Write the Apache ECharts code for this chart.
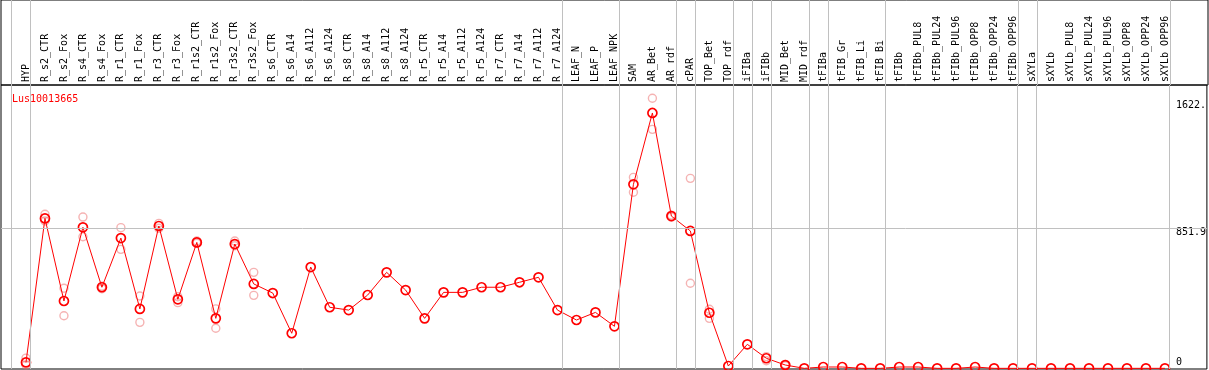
<!DOCTYPE html>
<html>
<head>
<meta charset="utf-8">
<script src="https://cdn.jsdelivr.net/npm/echarts@6/dist/echarts.min.js"></script>
<style>
html,body{margin:0;padding:0;background:#fff;}
#chart{width:1209px;height:370px;}
</style>
</head>
<body>
<div id="chart"></div>
<script>
const categories = ["HYP","R_s2_CTR","R_s2_Fox","R_s4_CTR","R_s4_Fox","R_r1_CTR","R_r1_Fox","R_r3_CTR","R_r3_Fox",
"R_r1s2_CTR","R_r1s2_Fox","R_r3s2_CTR","R_r3s2_Fox","R_s6_CTR","R_s6_A14","R_s6_A112","R_s6_A124",
"R_s8_CTR","R_s8_A14","R_s8_A112","R_s8_A124","R_r5_CTR","R_r5_A14","R_r5_A112","R_r5_A124",
"R_r7_CTR","R_r7_A14","R_r7_A112","R_r7_A124","LEAF_N","LEAF_P","LEAF_NPK","SAM","AR_Bet","AR_rdf",
"cPAR","TOP_Bet","TOP_rdf","iFIBa","iFIBb","MID_Bet","MID_rdf","tFIBa","tFIB_Gr","tFIB_Li","tFIB_Bi",
"tFIBb","tFIBb_PUL8","tFIBb_PUL24","tFIBb_PUL96","tFIBb_OPP8","tFIBb_OPP24","tFIBb_OPP96",
"sXYLa","sXYLb","sXYLb_PUL8","sXYLb_PUL24","sXYLb_PUL96","sXYLb_OPP8","sXYLb_OPP24","sXYLb_OPP96"];

const meanValues = [40,910,411,856,494,791,363,864,421,765,306,755,514,459,216,616,373,356,447,584,
477,306,463,463,494,494,524,554,356,296,342,258,1116,1547,924,834,340,18,149,65,24,4,12,12,4,4,
12,12,4,4,12,4,4,4,4,4,4,4,4,4,4];

const rep1Values = [66,935,488,918,500,854,441,880,437,773,363,773,584,null,null,null,null,null,null,null,
null,null,null,null,null,null,null,null,null,null,null,null,1158,1636,930,1152,361,null,null,75,28,null,
null,null,null,null,null,null,null,null,null,null,null,null,null,null,null,null,null,null,null];

const rep2Values = [24,894,322,799,485,723,282,850,401,759,246,745,445,null,null,null,null,null,null,null,
null,null,null,null,null,null,null,null,null,null,null,null,1068,1448,918,518,306,null,null,50,20,null,
null,null,null,null,null,null,null,null,null,null,null,null,null,null,null,null,null,null,null];

const groupEnds = [-1,0,28,31,34,35,37,38,39,41,42,45,52,53,60];
const yTickValues = [0, 851.9, 1622.5];
const yTickLabels = ["0", "851.9", "1622."];
const geneName = "Lus10013665";

const FONT = "DejaVu Sans Mono";
const X_MIN = -1.3158, X_MAX = 62.2105, Y_MAX = 1716;
const SEP_OFF = 0.24;

const meanData = meanValues.map((v, i) => [i, v]);
const repData = [];
rep1Values.forEach((v, i) => { if (v !== null) repData.push([i, v]); });
rep2Values.forEach((v, i) => { if (v !== null) repData.push([i, v]); });

const sepLines = groupEnds.map(g => ({ xAxis: g + SEP_OFF }));

const chart = echarts.init(document.getElementById('chart'), null, { renderer: 'canvas' });
chart.setOption({
  animation: false,
  backgroundColor: '#fff',
  title: {
    text: geneName, left: 7, top: 89,
    textStyle: { color: '#ff0000', fontSize: 10, fontFamily: FONT, fontWeight: 'normal' }
  },
  grid: [
    { left: 1, right: 1, top: 85, bottom: 1, show: true, borderColor: '#000', borderWidth: 1, backgroundColor: 'transparent' },
    { left: 1, right: 1, top: 0, height: 85, show: true, borderColor: '#000', borderWidth: 1, backgroundColor: 'transparent' }
  ],
  xAxis: [
    {
      gridIndex: 0, type: 'value', position: 'top', min: X_MIN, max: X_MAX,
      axisLine: { show: false }, axisTick: { show: false }, splitLine: { show: false },
      axisLabel: {
        rotate: 90, margin: 3, fontSize: 10, fontFamily: FONT, color: '#000',
        customValues: categories.map((c, i) => i),
        formatter: v => categories[Math.round(v)] || ''
      }
    },
    {
      gridIndex: 1, type: 'value', min: X_MIN, max: X_MAX, show: false
    }
  ],
  yAxis: [
    {
      gridIndex: 0, type: 'value', position: 'right', min: 0, max: Y_MAX,
      axisLine: { show: false }, axisTick: { show: false }, splitLine: { show: false },
      axisLabel: {
        inside: true, align: 'left', margin: 31, fontSize: 10, fontFamily: FONT, color: '#000',
        customValues: yTickValues,
        formatter: v => {
          const k = yTickValues.indexOf(v);
          const t = k >= 0 ? yTickLabels[k] : '';
          return v === 0 ? '{b|' + t + '}' : '{t|' + t + '}';
        },
        rich: {
          t: { fontSize: 10, fontFamily: FONT, color: '#000', padding: [9, 0, 0, 0] },
          b: { fontSize: 10, fontFamily: FONT, color: '#000', padding: [0, 0, 13, 0] }
        }
      }
    },
    { gridIndex: 1, type: 'value', min: 0, max: 1, show: false }
  ],
  series: [
    {
      type: 'scatter', xAxisIndex: 0, yAxisIndex: 0, data: repData,
      symbol: 'circle', symbolSize: 8,
      itemStyle: { color: 'rgba(0,0,0,0)', borderColor: 'rgba(235,110,110,0.65)', borderWidth: 1.4 },
      z: 3, silent: true,
      markLine: {
        silent: true, symbol: 'none', label: { show: false },
        lineStyle: { color: '#c0c0c0', width: 1, type: 'solid' },
        data: sepLines.concat([{ yAxis: yTickValues[1] }])
      }
    },
    {
      type: 'line', xAxisIndex: 0, yAxisIndex: 0, data: meanData,
      symbol: 'circle', symbolSize: 9, showAllSymbol: true,
      lineStyle: { color: '#ff0000', width: 1 },
      itemStyle: { color: 'rgba(0,0,0,0)', borderColor: '#ff0000', borderWidth: 1.7 },
      z: 4, silent: true
    },
    {
      type: 'line', xAxisIndex: 1, yAxisIndex: 1, data: [[0, -5]],
      symbol: 'none', lineStyle: { opacity: 0 }, silent: true,
      markLine: {
        silent: true, symbol: 'none', label: { show: false },
        lineStyle: { color: '#c0c0c0', width: 1, type: 'solid' },
        data: sepLines
      }
    }
  ]
});
</script>
</body>
</html>
